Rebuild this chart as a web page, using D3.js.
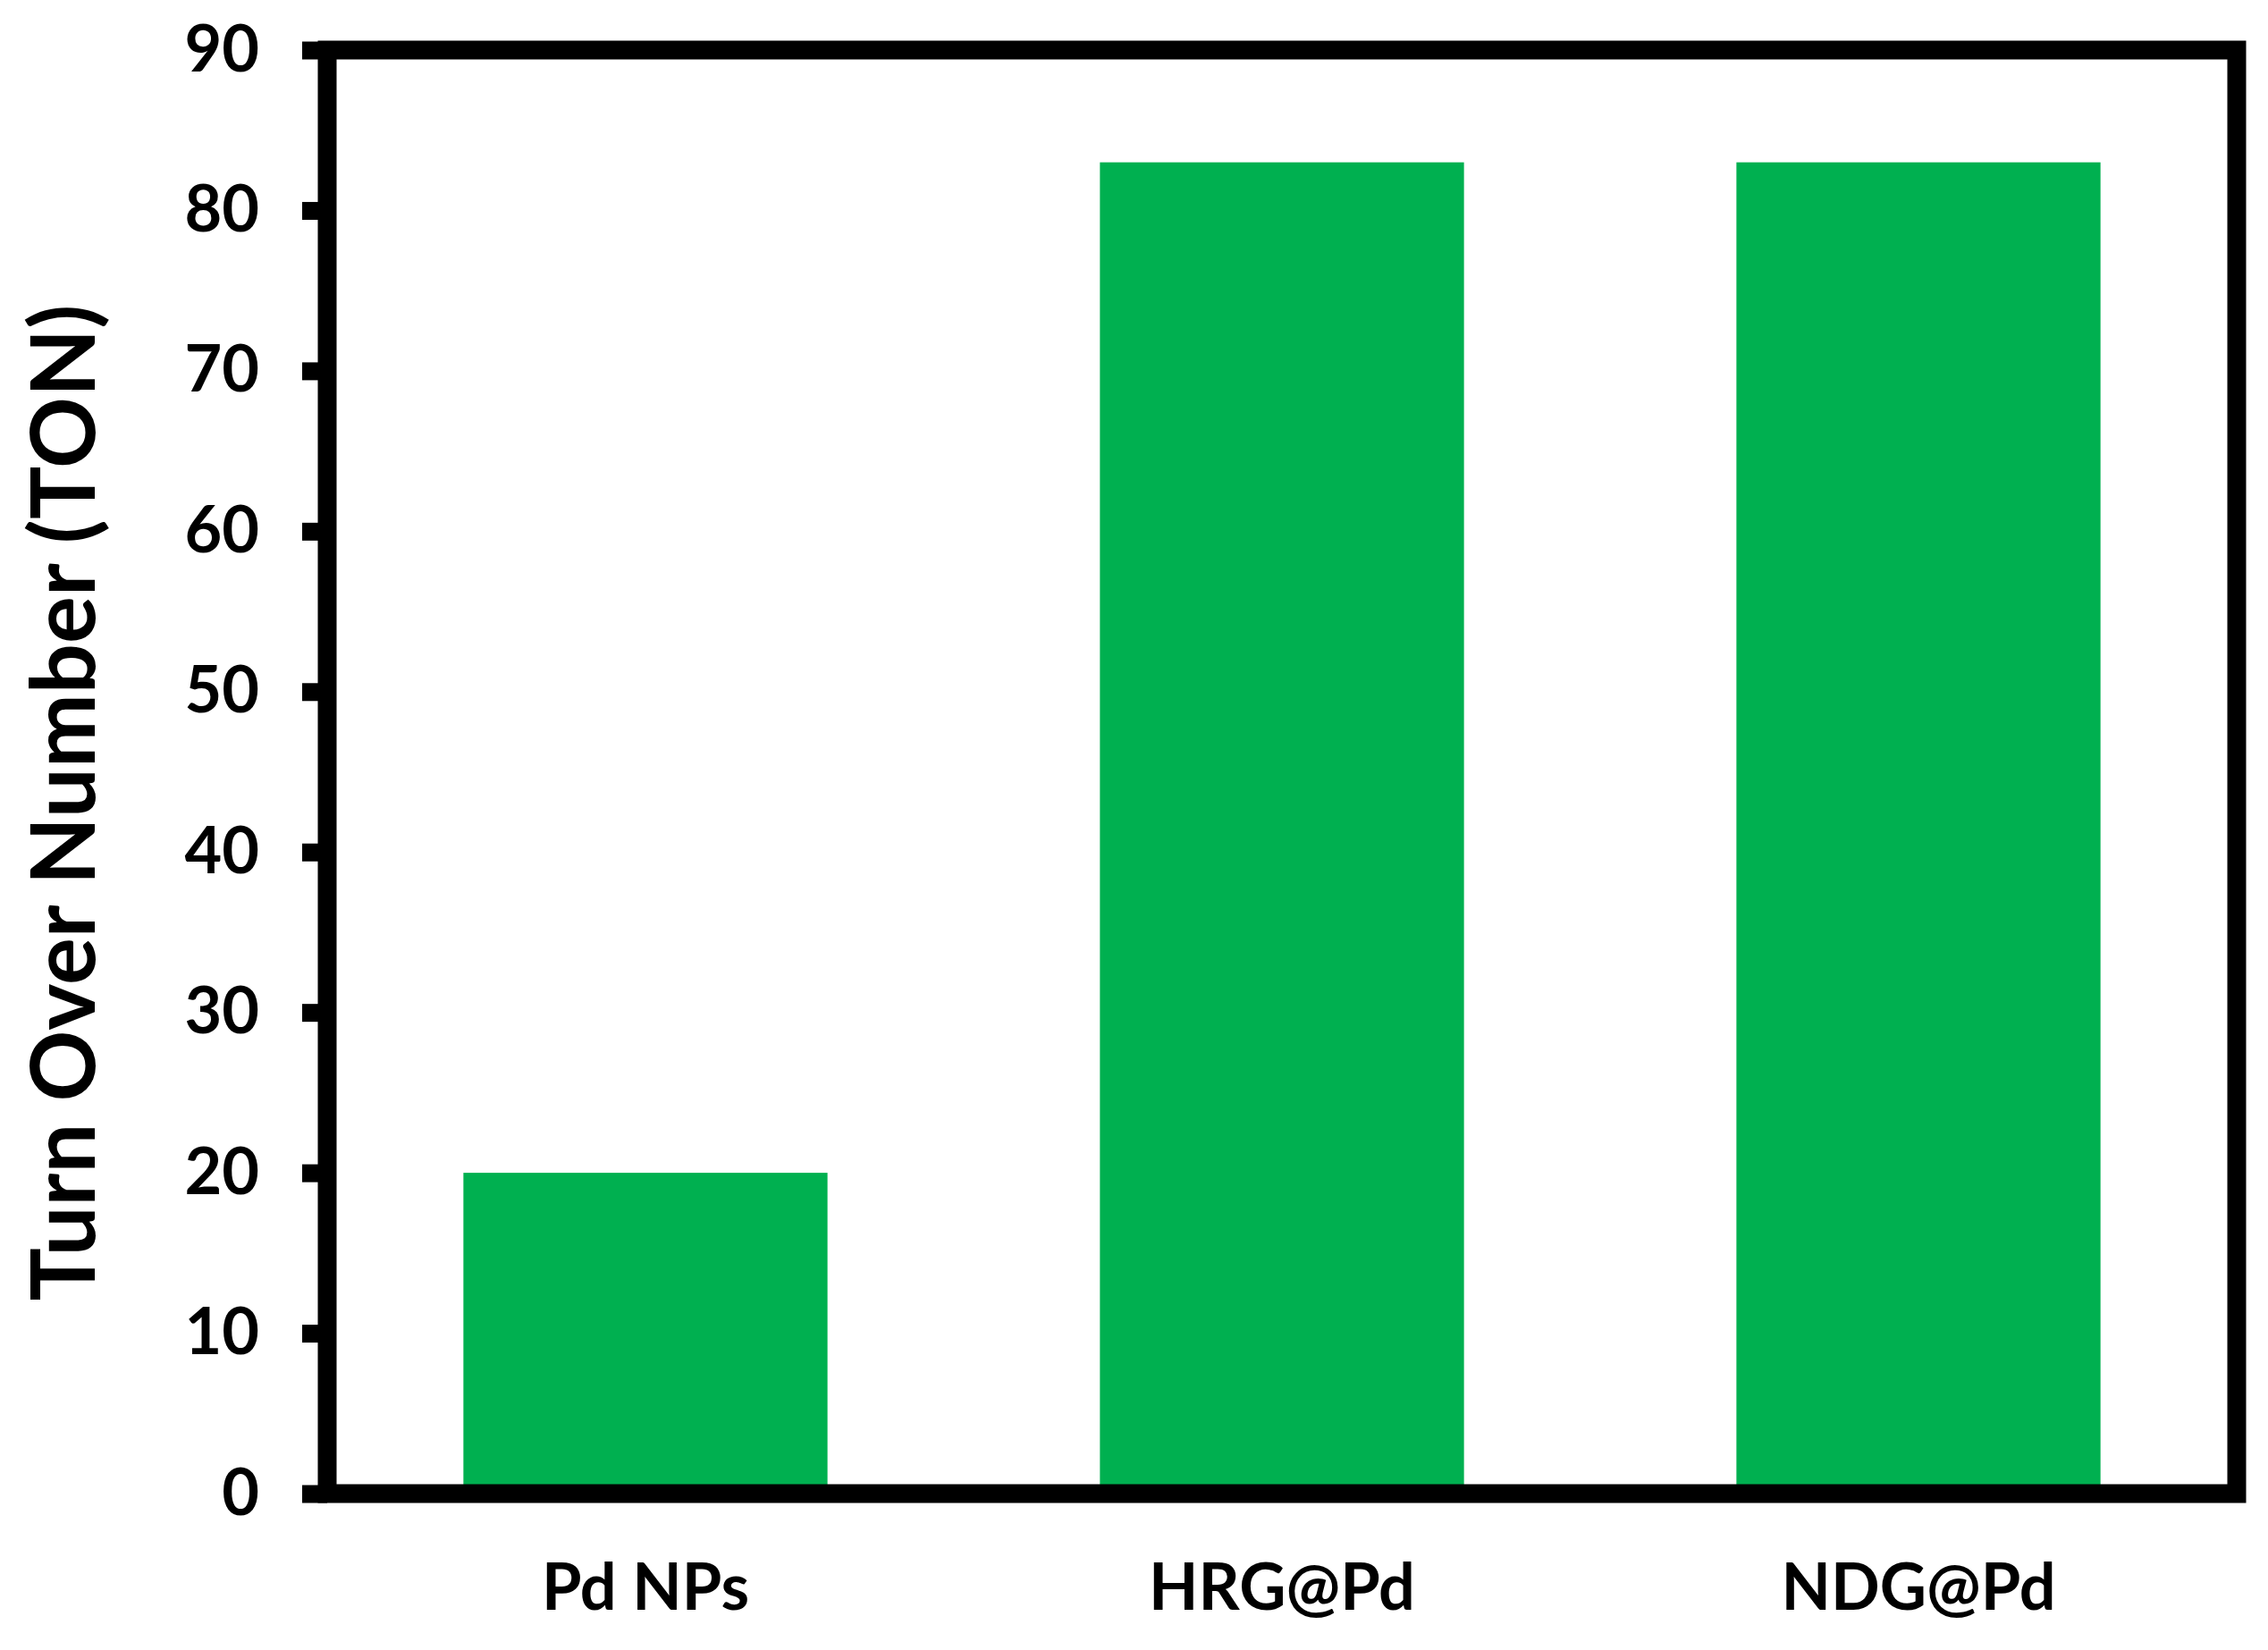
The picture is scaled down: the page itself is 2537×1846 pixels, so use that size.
<!DOCTYPE html>
<html><head><meta charset="utf-8">
<script src="https://cdn.jsdelivr.net/npm/d3@7"></script>
<style>
html,body{margin:0;padding:0;background:#fff;}
text{font-family:Lato,"Open Sans",sans-serif;font-weight:700;fill:#000;}
</style></head>
<body>
<svg id="chart" width="2537" height="1846"></svg>
<script>
const categories = ["Pd NPs", "HRG@Pd", "NDG@Pd"];
const tonValues = [20, 83, 83];
const yTicks = [0, 10, 20, 30, 40, 50, 60, 70, 80, 90];
const yTitle = "Turn Over Number (TON)";

const svg = d3.select("#chart");
const L = 366, R = 2502, T = 56, B = 1671;

const x = d3.scaleBand().domain(categories).range([L, R]).paddingInner(0.428).paddingOuter(0.214);
const y = d3.scaleLinear().domain([0, 90]).range([B, T]);

svg.append("g").selectAll("rect").data(categories).join("rect")
  .attr("x", d => x(d)).attr("width", x.bandwidth())
  .attr("y", (d, i) => y(tonValues[i])).attr("height", (d, i) => y(0) - y(tonValues[i]))
  .attr("fill", "#00B050");

const yAxis = svg.append("g").attr("transform", `translate(${L},0)`)
  .call(d3.axisLeft(y).tickValues(yTicks).tickSize(28).tickSizeOuter(0).tickPadding(48));
yAxis.select(".domain").remove();
yAxis.selectAll(".tick line").attr("stroke", "#000").attr("stroke-width", 20);
yAxis.selectAll(".tick text").style("font-size", "72px").attr("dy", "0.32em");

const xAxis = svg.append("g").attr("transform", `translate(0,${B})`)
  .call(d3.axisBottom(x).tickSize(0).tickSizeOuter(0));
xAxis.select(".domain").remove();
xAxis.selectAll(".tick text").style("font-size", "72px").attr("dy", 0).attr("y", 130);

svg.append("rect").attr("x", L).attr("y", T).attr("width", R - L).attr("height", B - T)
  .attr("fill", "none").attr("stroke", "#000").attr("stroke-width", 21);

svg.append("text").attr("transform", `translate(106,898) rotate(-90)`)
  .attr("text-anchor", "middle").style("font-size", "99px").text(yTitle);
</script>
</body></html>
